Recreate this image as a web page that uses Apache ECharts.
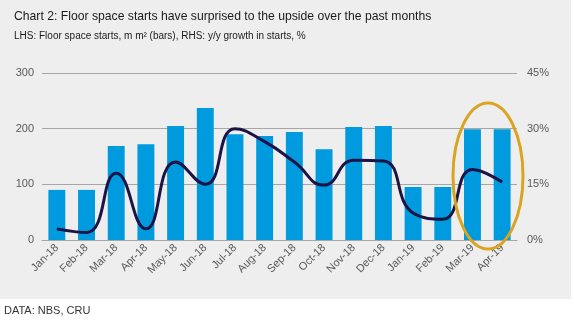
<!DOCTYPE html>
<html>
<head>
<meta charset="utf-8">
<script src="https://cdn.jsdelivr.net/npm/echarts@6/dist/echarts.min.js"></script>
<style>
html,body{margin:0;padding:0;background:#fff;}
#chart{width:574px;height:322px;}
</style>
</head>
<body>
<div id="chart"></div>
<script>
const categories = ["Jan-18","Feb-18","Mar-18","Apr-18","May-18","Jun-18","Jul-18","Aug-18","Sep-18","Oct-18","Nov-18","Dec-18","Jan-19","Feb-19","Mar-19","Apr-19"];
const floorSpaceStarts = [90, 90, 169, 172, 205, 237, 190, 187, 194, 163, 203, 205, 95, 95, 199, 199];
const yoyGrowth = [3.0, 2.0, 18.0, 3.0, 21.0, 15.0, 30.0, 26.5, 21.0, 14.8, 21.5, 21.3, 7.3, 5.6, 19.0, 15.6];
const leftTicks = [0, 100, 200, 300];
const rightTicks = [0, 15, 30, 45];

const chart = echarts.init(document.getElementById('chart'), null, {renderer: 'canvas'});
const FONT = '"Liberation Sans", Arial, sans-serif';
chart.setOption({
  animation: false,
  backgroundColor: '#ffffff',
  graphic: [
    {type: 'rect', z: -10, shape: {x: 0, y: 0, width: 571, height: 299}, style: {fill: '#eeeeee'}},
    {type: 'text', left: 14, top: 11, style: {text: 'Chart 2: Floor space starts have surprised to the upside over the past months', fill: '#1a1a1a', font: '12.2px ' + FONT}},
    {type: 'text', left: 14, top: 31, style: {text: 'LHS: Floor space starts, m m² (bars), RHS: y/y growth in starts, %', fill: '#1a1a1a', font: '10px ' + FONT}},
    {type: 'text', left: 4, top: 305, style: {text: 'DATA: NBS, CRU', fill: '#333333', font: '11px ' + FONT}},
    {type: 'ellipse', z: 100, shape: {cx: 488, cy: 176, rx: 35, ry: 73}, style: {fill: 'none', stroke: '#d9a521', lineWidth: 3}}
  ],
  grid: {left: 42, right: 57, top: 73, bottom: 82, containLabel: false},
  xAxis: {
    type: 'category',
    data: categories,
    axisTick: {show: false},
    axisLine: {lineStyle: {color: '#a6a6a6', width: 1}},
    axisLabel: {rotate: 45, color: '#595959', fontSize: 11, fontFamily: FONT, margin: 6, interval: 0}
  },
  yAxis: [
    {
      type: 'value', min: 0, max: 300, interval: 100,
      axisLine: {show: false}, axisTick: {show: false},
      splitLine: {lineStyle: {color: '#a6a6a6', width: 1}},
      axisLabel: {color: '#595959', fontSize: 11, fontFamily: FONT, margin: 8,
        formatter: v => leftTicks.includes(v) ? String(v) : ''}
    },
    {
      type: 'value', min: 0, max: 45, interval: 15,
      axisLine: {show: false}, axisTick: {show: false},
      splitLine: {show: false},
      axisLabel: {color: '#595959', fontSize: 11, fontFamily: FONT, margin: 10,
        formatter: v => rightTicks.includes(v) ? v + '%' : ''}
    }
  ],
  series: [
    {
      type: 'bar', yAxisIndex: 0, data: floorSpaceStarts,
      barWidth: '57%',
      itemStyle: {color: '#009ade'}
    },
    {
      type: 'line', yAxisIndex: 1, data: yoyGrowth,
      smooth: 0.5, showSymbol: false, symbol: 'none',
      lineStyle: {color: '#1c1446', width: 3}
    }
  ]
});
</script>
</body>
</html>
